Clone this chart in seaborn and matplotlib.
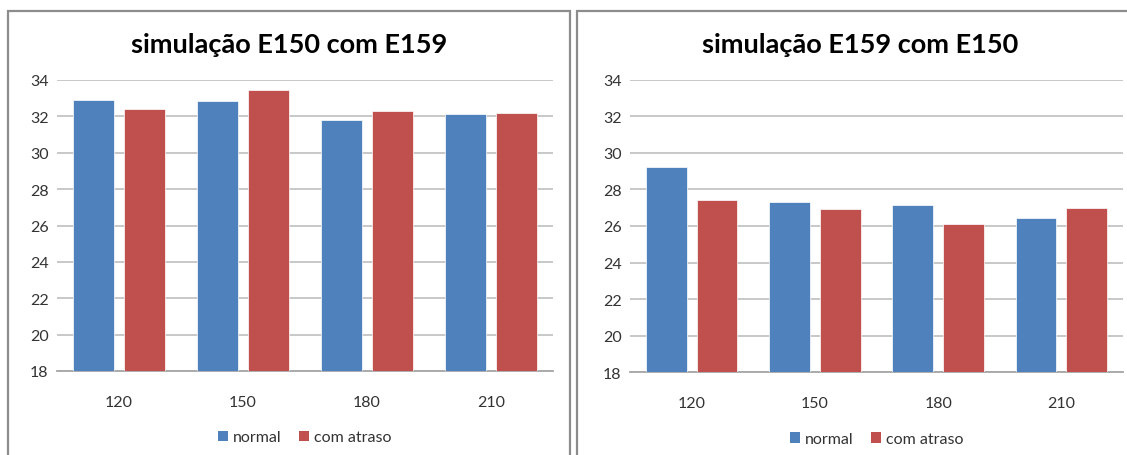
import matplotlib
matplotlib.use("Agg")
import matplotlib.pyplot as plt
from matplotlib.patches import Rectangle
import pandas as pd
import seaborn as sns

# Dados das duas simulações
tempos = ["120", "150", "180", "210"]
series = ["normal", "com atraso"]

e150_normal = [32.9, 32.83, 31.78, 32.13]
e150_atraso = [32.39, 33.43, 32.29, 32.18]

e159_normal = [29.23, 27.28, 27.14, 26.41]
e159_atraso = [27.39, 26.9, 26.13, 27.0]

titulos = ["simulação E150 com E159", "simulação E159 com E150"]
y_ticks = [18, 20, 22, 24, 26, 28, 30, 32, 34]

AZUL = "#4F81BD"
VERMELHO = "#C0504D"


def montar_tabela(normal, atraso):
    linhas = []
    for t, v in zip(tempos, normal):
        linhas.append({"tempo": t, "serie": series[0], "valor": v})
    for t, v in zip(tempos, atraso):
        linhas.append({"tempo": t, "serie": series[1], "valor": v})
    return pd.DataFrame(linhas)


sns.set_theme(style="white")
plt.rcParams["font.family"] = ["Lato", "DejaVu Sans"]

W, H = 1127, 456
fig = plt.figure(figsize=(W / 100, H / 100), dpi=100)
fig.patch.set_facecolor("white")


def px_axes(x0, x1, ytop, ybot):
    return [x0 / W, 1 - ybot / H, (x1 - x0) / W, (ybot - ytop) / H]


# Molduras dos dois gráficos
for (x0, x1) in [(8, 569.5), (577, 1140)]:
    fig.patches.append(Rectangle((x0 / W, -0.05), (x1 - x0) / W, 1 - 11.5 / H + 0.05,
                                 transform=fig.transFigure, fill=False,
                                 edgecolor="#8c8c8c", linewidth=1.6))

paineis = [
    (px_axes(57, 553, 81, 372), e150_normal, e150_atraso, 289),
    (px_axes(630, 1123, 80.5, 373.3), e159_normal, e159_atraso, 860),
]

for i, (pos, normal, atraso, cx) in enumerate(paineis):
    ax = fig.add_axes(pos)
    df = montar_tabela(normal, atraso)
    sns.barplot(data=df, x="tempo", y="valor", hue="serie", order=tempos,
                hue_order=series, palette=[AZUL, VERMELHO], width=0.825,
                gap=0.2, saturation=1, ax=ax, edgecolor=None, linewidth=0,
                legend=True, zorder=3)
    for patch in ax.patches[:8]:
        patch.set_edgecolor("#ffffff")
        patch.set_linewidth(0.5)
        patch.set_alpha(1)
    ax.set_ylim(18, 34)
    ax.set_xlim(-0.5, 3.5)
    ax.set_yticks(y_ticks)
    ax.set_yticklabels([str(v) for v in y_ticks])
    ax.yaxis.grid(True, color="#c4c4c4", linewidth=1.3, zorder=0)
    ax.xaxis.grid(False)
    ax.set_axisbelow(True)
    for lado in ["left", "right", "top"]:
        ax.spines[lado].set_visible(False)
    ax.spines["bottom"].set_color("#a6a6a6")
    ax.spines["bottom"].set_linewidth(1.3)
    ax.tick_params(axis="y", length=0, pad=6, labelsize=11.5, colors="#333333")
    ax.tick_params(axis="x", length=0, pad=17, labelsize=11.5, colors="#333333")
    ax.set_xlabel("")
    ax.set_ylabel("")
    ax.set_facecolor("white")

    leg = ax.legend(loc="center", bbox_to_anchor=(0.5, -0.228), ncol=2,
                    frameon=False, handlelength=0.62, handleheight=0.62,
                    handletextpad=0.3, columnspacing=1.1, fontsize=11.5,
                    borderaxespad=0)
    for t in leg.get_texts():
        t.set_color("#333333")

    fig.text(cx / W, 1 - 45 / H, titulos[i], ha="center", va="center",
             fontsize=19.5, fontweight="bold", color="black")

fig.savefig("out.png", dpi=100, facecolor="white")
